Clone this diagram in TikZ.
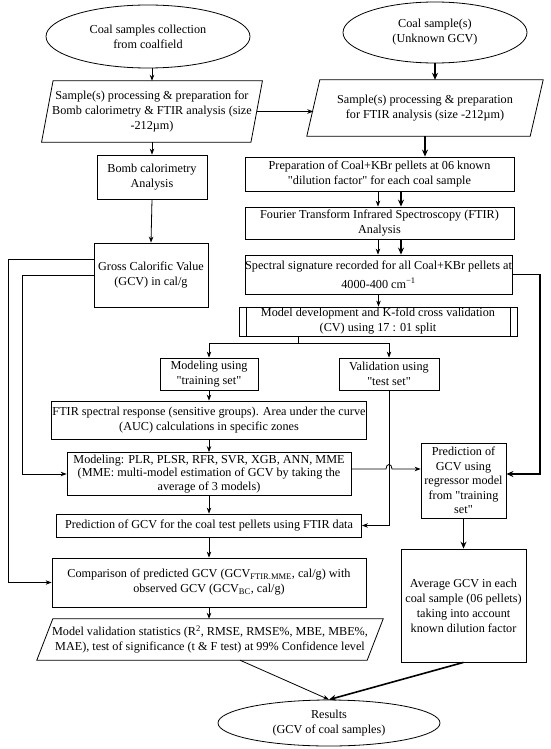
\documentclass[tikz,border=0pt]{standalone}
\usepackage{fontspec}
\setmainfont{Liberation Serif}[Ligatures=TeXOff]
\usetikzlibrary{arrows.meta,shapes.geometric,calc}
\begin{document}
\begin{tikzpicture}[x=1pt,y=-1pt,
  every node/.style={font=\fontsize{12.2}{15}\selectfont, inner sep=0pt, align=center},
  bx/.style 2 args={draw, line width=0.8pt, minimum width=#1, minimum height=#2},
  pl/.style 2 args={minimum width=#1, minimum height=#2},
  el/.style 2 args={draw, ellipse, line width=0.8pt, minimum width=#1, minimum height=#2},
  ln/.style={line width=0.8pt},
  arr/.style={line width=0.8pt, -{Stealth[length=6pt,width=4.5pt]}},
  tarr/.style={line width=1.6pt, -{Stealth[length=7pt,width=6pt]}}
]
\useasboundingbox (0,0) rectangle (550,749);
\fill[white] (0,0) rectangle (550,749);

% left column
\node[el={204}{63}] (E1) at (148,36.5) {Coal samples collection\\from coalfield};
\node[pl={209}{61}] (P1) at (152,111.5) {Sample(s) processing \& preparation for\\Bomb calorimetry \& FTIR analysis (size\\-212µm)};
\draw[ln] ([xshift=5.75pt]P1.north west) -- ([xshift=5.75pt]P1.north east) -- ([xshift=-5.75pt]P1.south east) -- ([xshift=-5.75pt]P1.south west) -- cycle;
\node[bx={110}{44}] (Bomb) at (152,177) {Bomb calorimetry\\Analysis};
\node[bx={114}{64}] (Gross) at (151,275) {Gross Calorific Value\\(GCV) in cal/g};

% right column
\node[el={184}{61}] (E2) at (435,32.5) {Coal sample(s)\\(Unknown GCV)};
\node[pl={223}{56}] (P2) at (425,108) {Sample(s) processing \& preparation\\for FTIR analysis (size -212µm)};
\draw[ln] ([xshift=6.5pt]P2.north west) -- ([xshift=6.5pt]P2.north east) -- ([xshift=-6.5pt]P2.south east) -- ([xshift=-6.5pt]P2.south west) -- cycle;
\node[bx={269}{34}] (Prep) at (379.5,174) {Preparation of Coal+KBr pellets at 06 known\\"dilution factor" for each coal sample};
\node[bx={269}{32}] (FTIR) at (379.5,223) {Fourier Transform Infrared Spectroscopy (FTIR)\\Analysis};
\node[bx={267}{39}] (Spec) at (378.5,274.5) {Spectral signature recorded for all Coal+KBr pellets at\\[4pt]4000-400 cm\textsuperscript{−1}};
\node[bx={278}{29}] (MD) at (378,321.5) {Model development and K-fold cross validation\\(CV) using 17 : 01 split};
\draw[ln] ([xshift=8pt]MD.north west) -- ([xshift=8pt]MD.south west);
\draw[ln] ([xshift=-7pt]MD.north east) -- ([xshift=-7pt]MD.south east);

\node[bx={98}{32}] (MU) at (209,374) {Modeling using\\"training set"};
\node[bx={100}{32}] (VU) at (389,374) {Validation using\\"test set"};
\node[bx={315}{38}] (FS) at (209,420) {FTIR spectral response (sensitive groups). Area under the curve\\(AUC) calculations in specific zones};
\node[bx={284}{43}, font=\fontsize{12.2}{13.5}\selectfont] (MO) at (209,474) {Modeling: PLR, PLSR, RFR, SVR, XGB, ANN, MME\\(MME: multi-model estimation of GCV by taking the\\average of 3 models)};
\node[bx={305}{23}] (PT) at (209,525.5) {Prediction of GCV for the coal test pellets using FTIR data};
\node[bx={314}{49}] (CO) at (209,582.5) {Comparison of predicted GCV (GCV\textsubscript{FTIR.MME}, cal/g) with\\observed GCV (GCV\textsubscript{BC}, cal/g)};
\node[pl={330}{41}] (MV) at (210,639.5) {Model validation statistics (R\textsuperscript{2}, RMSE, RMSE\%, MBE, MBE\%,\\MAE), test of significance (t \& F test) at 99\% Confidence level};
\draw[ln] ([xshift=8pt]MV.north west) -- ([xshift=8pt]MV.north east) -- ([xshift=-8pt]MV.south east) -- ([xshift=-8pt]MV.south west) -- cycle;

\node[bx={85}{75}, font=\fontsize{12.2}{14.5}\selectfont] (PG) at (463.5,480.5) {Prediction of\\GCV using\\regressor model\\from "training\\set"};
\node[bx={125}{113}] (AV) at (463.5,605.5) {Average GCV in each\\coal sample (06 pellets)\\taking into account\\known dilution factor};
\node[el={222}{46}] (RE) at (329,723) {Results\\(GCV of coal samples)};

% connectors left
\draw[arr] (E1.south -| Bomb.north) -- (P1.north -| Bomb.north);
\draw[arr] (P1.south -| Bomb.north) -- (Bomb.north);
\draw[arr] (Bomb.south) -- (Gross.north);
\draw[arr] (P1.east) -- (P1.east -| P2.west);

\coordinate (g1) at (8,259);
\coordinate (g2) at (22,275);
\draw[arr] ([yshift=16pt]Gross.west) -- (g1) |- (CO.west);
\draw[arr] (Gross.west) -- (g2) |- (MO.west);

% connectors right
\draw[tarr] (E2.south) -- (E2.south |- P2.north);
\draw[tarr] (P2.south) -- (P2.south |- Prep.north);
\draw[arr] ([xshift=-1.5pt]Prep.south) -- ([xshift=-1.5pt]FTIR.north);
\draw[tarr] ([xshift=21.5pt]Prep.south) -- ([xshift=21.5pt]FTIR.north);
\draw[arr] ([xshift=-1.5pt]FTIR.south) -- ([xshift=-1.5pt]FTIR.south |- Spec.north);
\draw[tarr] ([xshift=21.5pt]FTIR.south) -- ([xshift=21.5pt]FTIR.south |- Spec.north);
\draw[arr] (Spec.south) -- (Spec.south |- MD.north);

\coordinate (sp) at (298,343);
\draw[ln] (MD.south -| sp) -- (sp);
\draw[arr] (sp) -| (MU.north);
\draw[arr] (sp) -| (VU.north);

\draw[arr] (MU.south) -- (MU.south |- FS.north);
\draw[arr] (FS.south) -- (MO.north);
\draw[arr] (MO.south) -- (PT.north);
\draw[arr] (PT.south) -- (CO.north);
\draw[arr] (CO.south) -- (CO.south |- MV.north);

\draw[arr] (VU.south) |- (PT.east);
\coordinate (h1) at (386,469);
\coordinate (h2) at (392,469);
\draw[arr] (MO.east |- h1) -- (h1) .. controls ($(h1)+(0,-6)$) and ($(h2)+(0,-6)$) .. (h2) -- (PG.west |- h1);

\coordinate (r1) at (540,274.5);
\coordinate (r2) at (540,474);
\draw[tarr] (Spec.east) -- (r1) -- (r2) -- (PG.east |- r2);
\draw[tarr] (PG.south) -- (AV.north);
\draw[tarr] (AV.south) -- (RE.north);
\draw[arr] ([xshift=30pt]MV.south) -- (RE.north);
\end{tikzpicture}
\end{document}
